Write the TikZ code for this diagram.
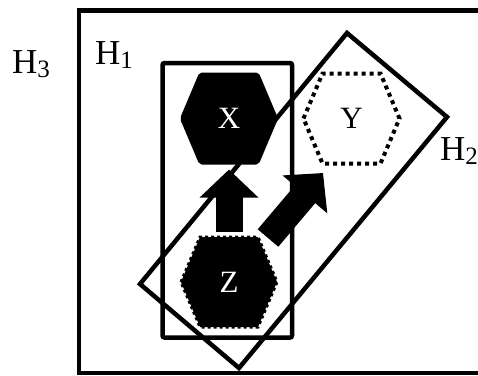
\documentclass[tikz,border=0pt]{standalone}
\usepackage{fontspec}
\setmainfont{Liberation Serif}
\usepackage{xcolor}
\usetikzlibrary{arrows.meta, backgrounds}

% label H with a lowered index
\newcommand{\hsub}[1]{H\raisebox{-4bp}{\fontsize{25bp}{25bp}\selectfont #1}}
% hexagon round the centre of a named node
\newcommand{\hexshape}[2][]{\path[#1, shift={(#2.center)}] (-48,0) -- (-29,-45) -- (29,-45) -- (48,0) -- (29,45) -- (-29,45) -- cycle;}

\begin{document}
\begin{tikzpicture}[x=1bp, y=-1bp,
  frame/.style={draw=black, line width=4.5bp},
  hexnode/.style={minimum width=96bp, minimum height=90bp, inner sep=0pt,
    font=\fontsize{31bp}{31bp}\selectfont},
  hexfull/.style={fill=black, draw=black, line width=2bp, rounded corners=2bp},
  hexdot/.style={fill=white, draw=black, line width=4bp, dash pattern=on 4bp off 4bp},
  hexzed/.style={fill=black, draw=black, line width=3bp, dash pattern=on 3bp off 3bp},
  bigarrow/.style={draw=black, line width=27bp, -{Triangle[length=28bp, width=57bp]}},
  lbl/.style={anchor=base west, inner sep=0pt, font=\fontsize{35bp}{35bp}\selectfont},
]
  \useasboundingbox (0,0) rectangle (478,375);

  \node[hexnode, text=white] (X) at (229,118.5) {X};
  \node[hexnode] (Y) at (351.5,118.5) {Y};
  \node[hexnode, text=white] (Z) at (229,282) {Z};

  \begin{scope}[on background layer]
    \draw[frame] (79,10.5) rectangle (492,373);
    \draw[frame, rounded corners=2bp] (162.5,63) rectangle (292,337.5);
    \draw[frame, line join=miter] (347,33) -- (447,117) -- (239,368) -- (140,284) -- cycle;
    \hexshape[hexfull]{X}
    \hexshape[hexdot]{Y}
    \hexshape[hexzed]{Z}
  \end{scope}

  \node[lbl] (h3) at (12,73) {\hsub{3}};
  \node[lbl] (h1) at (95,64) {\hsub{1}};
  \node[lbl] (h2) at (440,160) {\hsub{2}};

  \draw[bigarrow] ([yshift=50bp]Z.center) -- ([yshift=-51bp]X.center);
  \draw[bigarrow] ([xshift=39bp, yshift=44bp]Z.center) -- ([xshift=-28.5bp, yshift=-54.5bp]Y.center);
\end{tikzpicture}
\end{document}
